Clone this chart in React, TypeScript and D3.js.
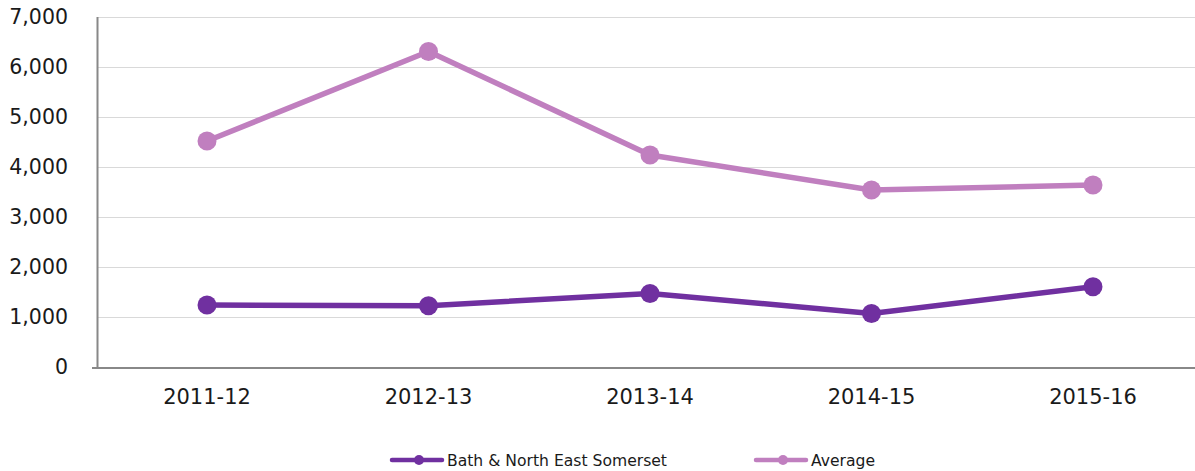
import React, { useEffect, useRef } from 'react';
import * as d3 from 'd3';

const years = ['2011-12', '2012-13', '2013-14', '2014-15', '2015-16'];
const bathValues = [1240, 1225, 1470, 1070, 1605];
const averageValues = [4520, 6310, 4240, 3540, 3640];
const yTicks = [0, 1000, 2000, 3000, 4000, 5000, 6000, 7000];

const series = [
  { name: 'Bath & North East Somerset', values: bathValues, color: '#7030A0' },
  { name: 'Average', values: averageValues, color: '#C07FBF' },
];

const font = '"DejaVu Sans", Verdana, sans-serif';

export default function App() {
  const ref = useRef<SVGSVGElement>(null);

  useEffect(() => {
    const width = 1195;
    const height = 471;
    const left = 97;
    const top = 17;
    const bottom = 367;

    const svg = d3.select(ref.current);
    svg.selectAll('*').remove();

    const x = d3.scalePoint().domain(years).range([207, 1093]);
    const y = d3.scaleLinear().domain([0, 7000]).range([bottom, top]);

    // gridlines
    svg
      .append('g')
      .selectAll('line')
      .data(yTicks.filter(d => d > 0))
      .enter()
      .append('line')
      .attr('x1', left)
      .attr('x2', width)
      .attr('y1', d => y(d) + 0.5)
      .attr('y2', d => y(d) + 0.5)
      .attr('stroke', '#d9d9d9')
      .attr('stroke-width', 1);

    // axes lines
    svg
      .append('line')
      .attr('x1', left + 0.5)
      .attr('x2', left + 0.5)
      .attr('y1', top)
      .attr('y2', bottom + 1)
      .attr('stroke', '#888')
      .attr('stroke-width', 2);
    svg
      .append('line')
      .attr('x1', left - 5)
      .attr('x2', width)
      .attr('y1', bottom + 1)
      .attr('y2', bottom + 1)
      .attr('stroke', '#888')
      .attr('stroke-width', 2);

    // y tick labels
    svg
      .append('g')
      .selectAll('text')
      .data(yTicks)
      .enter()
      .append('text')
      .attr('x', 68)
      .attr('y', d => y(d))
      .attr('dy', '0.36em')
      .attr('text-anchor', 'end')
      .style('font-family', font)
      .style('font-size', '20.5px')
      .attr('fill', '#1a1a1a')
      .text(d => d3.format(',')(d));

    // x labels
    svg
      .append('g')
      .selectAll('text')
      .data(years)
      .enter()
      .append('text')
      .attr('x', d => x(d)!)
      .attr('y', 404)
      .attr('text-anchor', 'middle')
      .style('font-family', font)
      .style('font-size', '21px')
      .attr('fill', '#1a1a1a')
      .text(d => d);

    const line = d3
      .line<number>()
      .x((d, i) => x(years[i])!)
      .y(d => y(d));

    series.forEach(s => {
      svg
        .append('path')
        .datum(s.values)
        .attr('d', line)
        .attr('fill', 'none')
        .attr('stroke', s.color)
        .attr('stroke-width', 5.5)
        .attr('stroke-linejoin', 'round');

      svg
        .append('g')
        .selectAll('circle')
        .data(s.values)
        .enter()
        .append('circle')
        .attr('cx', (d, i) => x(years[i])!)
        .attr('cy', d => y(d))
        .attr('r', 9.5)
        .attr('fill', s.color);
    });

    // legend
    const legendX = [392, 756];
    const legend = svg
      .selectAll('.legend')
      .data(series)
      .enter()
      .append('g')
      .attr('class', 'legend')
      .attr('transform', (d, i) => `translate(${legendX[i]},460)`);

    legend
      .append('line')
      .attr('x1', 0)
      .attr('x2', 50)
      .attr('stroke', d => d.color)
      .attr('stroke-width', 4.5)
      .attr('stroke-linecap', 'round');

    legend
      .append('circle')
      .attr('cx', 27)
      .attr('r', 5)
      .attr('fill', d => d.color);

    legend
      .append('text')
      .attr('x', 55)
      .attr('dy', '0.36em')
      .style('font-family', font)
      .style('font-size', '15.6px')
      .attr('fill', '#1a1a1a')
      .text(d => d.name);

    svg.attr('width', width).attr('height', height);
  }, []);

  return (
    <svg
      ref={ref}
      width={1195}
      height={471}
      style={{ position: 'absolute', left: 0, top: 0, background: '#fff' }}
    />
  );
}
